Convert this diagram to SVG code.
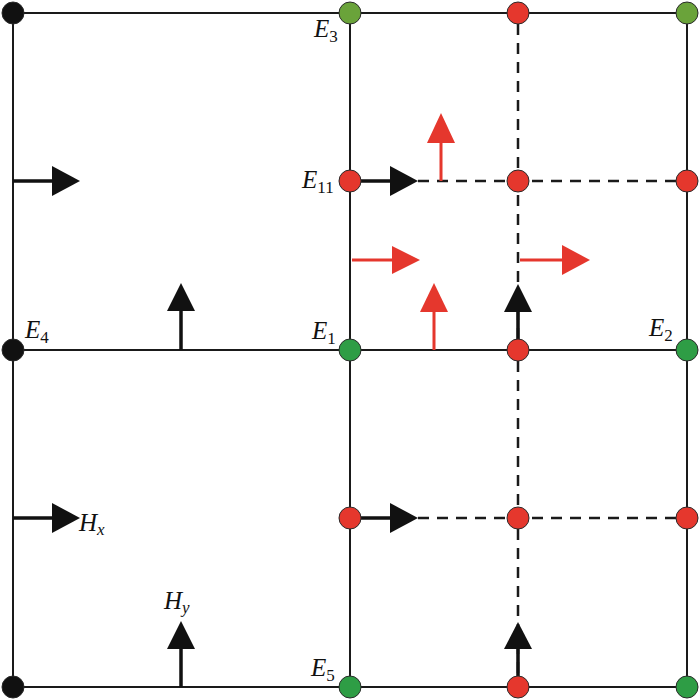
<svg xmlns="http://www.w3.org/2000/svg" width="700" height="700" viewBox="0 0 700 700">
<style>
.grid{stroke:#1a1a1a;stroke-width:2;fill:none}
.dash{stroke:#1a1a1a;stroke-width:2.5;fill:none;stroke-dasharray:11 8}
.ka{stroke:#111;stroke-width:3.5;fill:none}
.kh{fill:#111}
.ra{stroke:#e5372d;stroke-width:3;fill:none}
.rh{fill:#e5372d}
.nd{stroke:#2a2a2a;stroke-width:1}
.blk{fill:#111}
.red{fill:#e5372d}
.grn{fill:#2e9d45}
.olv{fill:#6aa33a}
.lbl{font-family:"Liberation Serif","Times New Roman",serif;font-style:italic;font-size:25px;fill:#111}
.sub{font-style:normal;font-size:17px}
.subi{font-style:italic;font-size:17px}
</style>
<g id="connectors">
<path class="grid" d="M13 13H687M13 350H687M13 687H687M13 13V687M350 13V687M687 13V687"/>
<path class="dash" d="M518 24V340M518 361V518M518 529V687"/>
<path class="dash" d="M418 181H687M418 518H687"/>
</g>
<g id="arrows-black">
<path class="ka" d="M13 181H54M13 518H54M361 181H392M361 518H392M181 350V308M181 687V646M518 340V310M518 676V647"/>
<polygon class="kh" points="52,166 80,181 52,196"/>
<polygon class="kh" points="52,503 80,518 52,533"/>
<polygon class="kh" points="390,166 418,181 390,196"/>
<polygon class="kh" points="390,503 418,518 390,533"/>
<polygon class="kh" points="167,311 181,283 195,311"/>
<polygon class="kh" points="167,649 181,621 195,649"/>
<polygon class="kh" points="504,312 518,284 532,312"/>
<polygon class="kh" points="504,649 518,622 532,649"/>
</g>
<g id="arrows-red">
<path class="ra" d="M352 260H394M520 260H564M434 350V310M441 181V141"/>
<polygon class="rh" points="392,246 420,260 392,274"/>
<polygon class="rh" points="562,245 590,260 562,275"/>
<polygon class="rh" points="420,312 434,283 448,312"/>
<polygon class="rh" points="427,143 441,113 455,143"/>
</g>
<g id="nodes">
<circle id="n-0-0" class="nd blk" cx="13" cy="13" r="11"/>
<circle id="n-E3" class="nd olv" cx="350" cy="13" r="11"/>
<circle id="n-2-0" class="nd red" cx="518" cy="13" r="11"/>
<circle id="n-3-0" class="nd olv" cx="687" cy="13" r="11"/>
<circle id="n-E11" class="nd red" cx="350" cy="181" r="11"/>
<circle id="n-2-1" class="nd red" cx="518" cy="181" r="11"/>
<circle id="n-3-1" class="nd red" cx="687" cy="181" r="11"/>
<circle id="n-E4" class="nd blk" cx="13" cy="350" r="11"/>
<circle id="n-E1" class="nd grn" cx="350" cy="350" r="11"/>
<circle id="n-2-2" class="nd red" cx="518" cy="350" r="11"/>
<circle id="n-E2" class="nd grn" cx="687" cy="350" r="11"/>
<circle id="n-1-3" class="nd red" cx="350" cy="518" r="11"/>
<circle id="n-2-3" class="nd red" cx="518" cy="518" r="11"/>
<circle id="n-3-3" class="nd red" cx="687" cy="518" r="11"/>
<circle id="n-0-4" class="nd blk" cx="13" cy="687" r="11"/>
<circle id="n-E5" class="nd grn" cx="350" cy="687" r="11"/>
<circle id="n-2-4" class="nd red" cx="518" cy="687" r="11"/>
<circle id="n-3-4" class="nd grn" cx="687" cy="687" r="11"/>
</g>
<g id="labels">
<text class="lbl" x="314" y="37">E<tspan class="sub" dy="5">3</tspan></text>
<text class="lbl" x="302" y="188">E<tspan class="sub" dy="5">11</tspan></text>
<text class="lbl" x="25" y="338">E<tspan class="sub" dy="5">4</tspan></text>
<text class="lbl" x="312" y="339">E<tspan class="sub" dy="5">1</tspan></text>
<text class="lbl" x="649" y="336">E<tspan class="sub" dy="5">2</tspan></text>
<text class="lbl" x="311" y="676">E<tspan class="sub" dy="5">5</tspan></text>
<text class="lbl" x="79" y="531">H<tspan class="subi" dy="4">x</tspan></text>
<text class="lbl" x="164" y="609">H<tspan class="subi" dy="4">y</tspan></text>
</g>
</svg>
